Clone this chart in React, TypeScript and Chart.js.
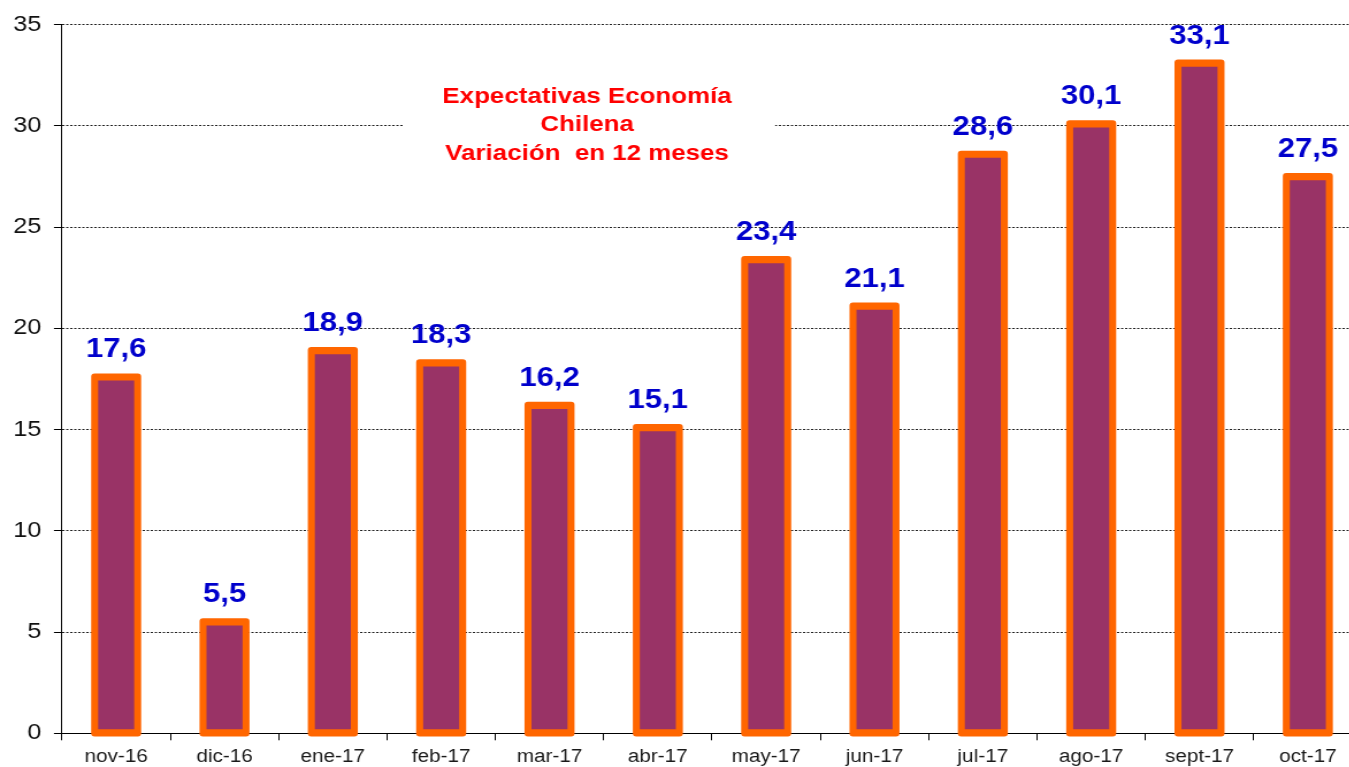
import React, { useEffect, useRef } from "react";
import { Chart, registerables } from "chart.js";

Chart.register(...registerables);

const categories = ["nov-16", "dic-16", "ene-17", "feb-17", "mar-17", "abr-17", "may-17", "jun-17", "jul-17", "ago-17", "sept-17", "oct-17"];
const values = [17.6, 5.5, 18.9, 18.3, 16.2, 15.1, 23.4, 21.1, 28.6, 30.1, 33.1, 27.5];
const yTicks = [0, 5, 10, 15, 20, 25, 30, 35];
const titleLines = ["Expectativas Economía", "Chilena", "Variación  en 12 meses"];

// The reference is horizontally stretched; draw at internal width and stretch with CSS.
const CSS_W = 1362;
const INT_W = 1184;
const H = 767;
const S = CSS_W / INT_W;

const PURPLE = "#993366";
const ORANGE = "#FF6600";
const BLUE = "#0000CC";
const RED = "#FF0000";
const FONT = '"Liberation Sans", Arial, sans-serif';

const fmt = (v: number) => v.toFixed(1).replace(".", ",");

const overlayPlugin = {
  id: "overlay",
  afterDatasetsDraw(chart: any) {
    const ctx = chart.ctx as CanvasRenderingContext2D;
    const meta = chart.getDatasetMeta(0);
    const bx = 7 / S / 2;
    const by = 7.2 / 2;
    ctx.save();
    meta.data.forEach((el: any, i: number) => {
      const { x, y, base, width } = el.getProps(["x", "y", "base", "width"], true);
      const left = x - width / 2;
      ctx.beginPath();
      (ctx as any).roundRect(left - bx, y - by, width + 2 * bx, base - y + 2 * by, 3);
      ctx.rect(left + bx, y + by, width - 2 * bx, base - y - 2 * by);
      ctx.fillStyle = ORANGE;
      ctx.fill("evenodd");
      ctx.font = `bold 27px ${FONT}`;
      ctx.fillStyle = BLUE;
      ctx.textAlign = "center";
      ctx.textBaseline = "alphabetic";
      ctx.fillText(fmt(values[i]), x, y - 19.5);
    });

    // title box
    ctx.fillStyle = "#FFFFFF";
    ctx.fillRect(403 / S, 70, (775 - 403) / S, 110);
    ctx.fillStyle = RED;
    ctx.font = `bold 22.5px ${FONT}`;
    ctx.textAlign = "center";
    ctx.textBaseline = "alphabetic";
    const baselines = [102.5, 131, 159.5];
    titleLines.forEach((t, k) => ctx.fillText(t, 587 / S, baselines[k]));
    ctx.restore();
  },
};

export default function App() {
  const ref = useRef<HTMLCanvasElement | null>(null);

  useEffect(() => {
    if (!ref.current) return;
    const chart = new Chart(ref.current, {
      type: "bar",
      data: {
        labels: categories,
        datasets: [
          {
            data: values,
            backgroundColor: PURPLE,
            borderWidth: 0,
            barPercentage: 0.397,
            categoryPercentage: 1,
          },
        ],
      },
      options: {
        responsive: false,
        animation: false,
        devicePixelRatio: 1,
        layout: { padding: { top: 24.7, left: 0, right: 0, bottom: 0 } },
        plugins: {
          legend: { display: false },
          tooltip: { enabled: false },
        },
        scales: {
          x: {
            grid: {
              display: true,
              drawOnChartArea: false,
              drawTicks: true,
              tickLength: 7,
              tickColor: "#000",
              offset: true,
            },
            border: { display: true, color: "#000", width: 1 },
            ticks: {
              color: "#1a1a1a",
              font: { family: FONT, size: 18 },
              padding: 6.4,
              maxRotation: 0,
              autoSkip: false,
            },
            afterFit: (scale: any) => {
              scale.height = H - 733.3;
            },
          },
          y: {
            min: 0,
            max: 35,
            grid: {
              color: "#222",
              lineWidth: 1,
              drawTicks: true,
              tickLength: 7,
              tickColor: "#000",
            },
            border: { display: true, color: "#000", width: 1, dash: [2, 1.5] },
            ticks: {
              stepSize: 5,
              color: "#111",
              font: { family: FONT, size: 22 },
              padding: 11,
              callback: (v: any) => (yTicks.includes(Number(v)) ? String(v) : ""),
            },
            afterFit: (scale: any) => {
              scale.width = 62 / S;
            },
          },
        },
      },
      plugins: [overlayPlugin],
    });
    return () => chart.destroy();
  }, []);

  return (
    <div
      style={{
        position: "fixed",
        left: 0,
        top: 0,
        width: 1349,
        height: H,
        overflow: "hidden",
        background: "#fff",
      }}
    >
      <canvas
        ref={ref}
        width={INT_W}
        height={H}
        style={{ width: `${CSS_W}px`, height: `${H}px`, display: "block" }}
      />
    </div>
  );
}
